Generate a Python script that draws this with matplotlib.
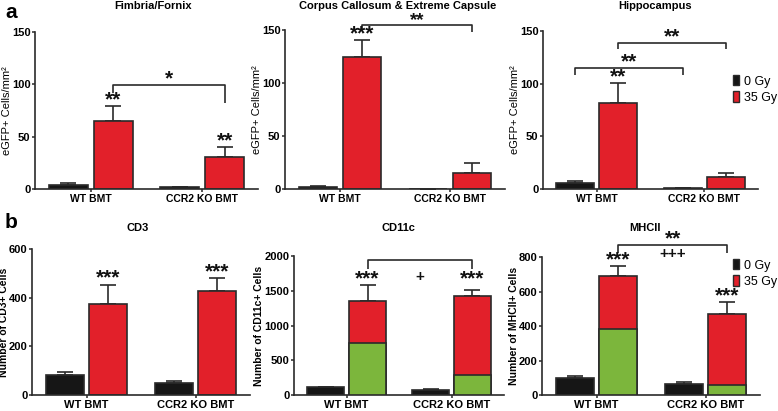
import matplotlib
matplotlib.use('Agg')
import matplotlib.pyplot as plt
from matplotlib.patches import Patch

plt.rcParams['font.family'] = ['Liberation Sans', 'DejaVu Sans']

W, H = 778, 411
BLACK = '#161616'
RED = '#e2202a'
GREEN = '#7cb63c'
LINE = '#2a2a2a'

groups = ['WT BMT', 'CCR2 KO BMT']

# panel a: eGFP+ cells/mm2 (0 Gy black, 35 Gy red), mean and upper error
fim_0 = [4, 1.5]
fim_0_err = [2, 0.3]
fim_35 = [65, 31]
fim_35_err = [14, 9]

cc_0 = [1.5, 0]
cc_0_err = [1, 0]
cc_35 = [124.5, 15.5]
cc_35_err = [16, 9]

hip_0 = [6, 0.5]
hip_0_err = [1.6, 0]
hip_35 = [81.5, 11]
hip_35_err = [19.5, 4.5]

# panel b: number of cells, 35 Gy bar split into green (lower) part and total
cd3_0 = [84, 48]
cd3_0_err = [11, 10]
cd3_35 = [374, 428]
cd3_35_err = [80, 51]

cd11_0 = [110, 75]
cd11_0_err = [5, 5]
cd11_35 = [1354, 1420]
cd11_green = [742, 290]
cd11_35_err = [225, 90]

mhc_0 = [97, 66]
mhc_0_err = [15, 8]
mhc_35 = [692, 472]
mhc_green = [380, 60]
mhc_35_err = [58, 66]


def px_ax(l, r, t, b):
    return [l / W, 1 - b / H, (r - l) / W, (b - t) / H]


fig = plt.figure(figsize=(W / 100, H / 100), dpi=100)


def draw(ax, zero, zero_err, irr, irr_err, green=None, ymax=150, step=50,
         tick_fs=8, xl_fs=7.5):
    xb = [i - 0.2 for i in range(2)]
    xr = [i + 0.2 for i in range(2)]
    ax.errorbar(xb, zero, yerr=[[0, 0], zero_err], fmt='none', ecolor=LINE,
                elinewidth=1.2, capsize=6, capthick=1.2, zorder=1)
    ax.errorbar(xr, irr, yerr=[[0, 0], irr_err], fmt='none', ecolor=LINE,
                elinewidth=1.2, capsize=6, capthick=1.2, zorder=1)
    ax.bar(xb, zero, 0.35, color=BLACK, edgecolor=LINE, linewidth=1.2, zorder=2)
    ax.bar(xr, irr, 0.35, color=RED, edgecolor=LINE, linewidth=1.2, zorder=2)
    if green is not None:
        ax.bar(xr, green, 0.35, color=GREEN, edgecolor=LINE, linewidth=1.2, zorder=3)
    ax.set_xlim(-0.5, 1.5)
    ax.set_ylim(0, ymax)
    ax.set_yticks(range(0, ymax + 1, step))
    ax.set_xticks([0, 1])
    ax.set_xticklabels(groups, fontsize=xl_fs, fontweight='bold')
    for lab in ax.get_yticklabels():
        lab.set_fontsize(tick_fs)
        lab.set_fontweight('bold')
    for s in ['top', 'right']:
        ax.spines[s].set_visible(False)
    for s in ['left', 'bottom']:
        ax.spines[s].set_linewidth(1.2)
        ax.spines[s].set_color(LINE)
    ax.tick_params(length=2.5, width=1.1, color=LINE)
    ax.tick_params(axis='y', pad=0.8)
    ax.tick_params(axis='x', pad=0.8)


def stars(ax, x, y, s, fs=15, off=0.5):
    ax.annotate(s, (x, y), xytext=(0, off), textcoords='offset points',
                ha='center', va='baseline', fontsize=fs, fontweight='bold',
                color='#111', annotation_clip=False)


def bracket(ax, x1, x2, y, yl, yr):
    ax.plot([x1, x1, x2, x2], [yl, y, y, yr], color=LINE, lw=1.2,
            clip_on=False, solid_capstyle='butt')


# ---- panel a ----
a1 = fig.add_axes(px_ax(35, 258, 32, 189))
draw(a1, fim_0, fim_0_err, fim_35, fim_35_err)
stars(a1, 0.2, fim_35[0] + fim_35_err[0], '**')
stars(a1, 1.2, fim_35[1] + fim_35_err[1], '**')
bracket(a1, 0.2, 1.2, 99, 92, 82)
stars(a1, 0.7, 99, '*')
a1.set_ylabel('eGFP+ Cells/mm²', fontsize=8, labelpad=0)

a2 = fig.add_axes(px_ax(285, 505, 30, 189))
draw(a2, cc_0, cc_0_err, cc_35, cc_35_err)
stars(a2, 0.2, cc_35[0] + cc_35_err[0], '***')
bracket(a2, 0.2, 1.2, 155, 151, 148)
stars(a2, 0.7, 155, '**', fs=13.5, off=-0.5)
a2.set_ylabel('eGFP+ Cells/mm²', fontsize=8, labelpad=0)

a3 = fig.add_axes(px_ax(543, 758, 31, 189))
draw(a3, hip_0, hip_0_err, hip_35, hip_35_err)
stars(a3, 0.2, hip_35[0] + hip_35_err[0], '**')
bracket(a3, -0.2, 0.8, 115, 108, 108)
stars(a3, 0.3, 115, '**')
bracket(a3, 0.2, 1.2, 139, 133, 133)
stars(a3, 0.7, 139, '**')
a3.set_ylabel('eGFP+ Cells/mm²', fontsize=8, labelpad=0)

# ---- panel b ----
b1 = fig.add_axes(px_ax(32, 250, 249, 395))
draw(b1, cd3_0, cd3_0_err, cd3_35, cd3_35_err, ymax=600, step=200,
     tick_fs=8, xl_fs=8)
stars(b1, 0.2, cd3_35[0] + cd3_35_err[0], '***')
stars(b1, 1.2, cd3_35[1] + cd3_35_err[1], '***')
b1.set_ylabel('Number of CD3+ Cells', fontsize=7.5, fontweight='bold', labelpad=-0.5)

b2 = fig.add_axes(px_ax(294, 504, 256, 395))
draw(b2, cd11_0, cd11_0_err, cd11_35, cd11_35_err, green=cd11_green,
     ymax=2000, step=500, tick_fs=8, xl_fs=8)
stars(b2, 0.2, cd11_35[0] + cd11_35_err[0], '***')
stars(b2, 1.2, 1580, '***')
bracket(b2, 0.2, 1.2, 1938, 1818, 1818)
b2.text(0.7, 1700, '+', ha='center', va='center', fontsize=11,
        fontweight='bold', color='#111')
b2.set_ylabel('Number of CD11c+ Cells', fontsize=7.5, fontweight='bold', labelpad=0)

b3 = fig.add_axes(px_ax(542, 760, 257, 395))
draw(b3, mhc_0, mhc_0_err, mhc_35, mhc_35_err, green=mhc_green,
     ymax=800, step=200, tick_fs=8, xl_fs=8)
stars(b3, 0.2, mhc_35[0] + mhc_35_err[0], '***')
stars(b3, 1.2, mhc_35[1] + mhc_35_err[1], '***')
bracket(b3, 0.2, 1.2, 871, 825, 825)
stars(b3, 0.7, 871, '**', off=0)
b3.text(0.7, 816, '+++', ha='center', va='center', fontsize=11,
        fontweight='bold', color='#111')
b3.set_ylabel('Number of MHCII+ Cells', fontsize=7.5, fontweight='bold', labelpad=0)

# legends
handles = [Patch(facecolor=BLACK, edgecolor=LINE, label='0 Gy'),
           Patch(facecolor=RED, edgecolor=LINE, label='35 Gy')]
for ax, (lx, ly) in [(a3, (733, 75)), (b3, (733, 259))]:
    ax.legend(handles=handles, loc='upper left', frameon=False,
              bbox_to_anchor=(lx / W, 1 - ly / H), bbox_transform=fig.transFigure,
              fontsize=9, handlelength=0.5, handleheight=0.9, handletextpad=0.4,
              labelspacing=0.3, borderpad=0, borderaxespad=0)

# titles and panel letters
titles = [('Fimbria/Fornix', 153, 6), ('Corpus Callosum & Extreme Capsule', 398, 6),
          ('Hippocampus', 655, 6), ('CD3', 138, 228), ('CD11c', 398, 228),
          ('MHCII', 645, 228)]
for t, x, y in titles:
    fig.text(x / W, 1 - y / H, t, ha='center', va='center', fontsize=8,
             fontweight='bold')
fig.text(5 / W, 1 - 12 / H, 'a', ha='left', va='center', fontsize=15, fontweight='bold')
fig.text(5 / W, 1 - 222 / H, 'b', ha='left', va='center', fontsize=15, fontweight='bold')

fig.savefig('out.png', dpi=100)
